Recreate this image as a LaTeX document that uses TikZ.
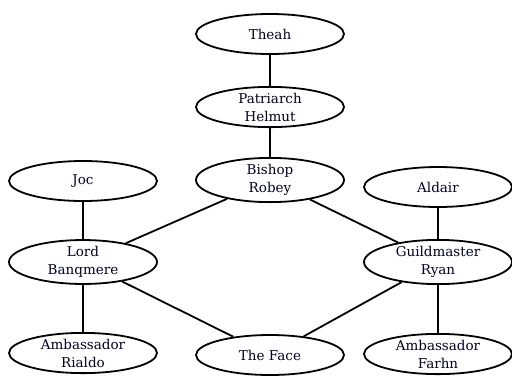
\documentclass[tikz,border=0pt]{standalone}
\usepackage{fontspec}
\setmainfont{DejaVu Serif}
\usetikzlibrary{shapes.geometric}
\begin{document}
\begin{tikzpicture}[x=1pt,y=-1pt,
  ell/.style={draw,ellipse,line width=1.8pt,minimum width=148pt,minimum height=40pt,inner sep=0pt,align=center,font=\fontsize{13.5}{18}\selectfont,text=black!85!blue},
  link/.style={line width=1.8pt}]
\useasboundingbox (0,0) rectangle (512,381);
\node[ell] (theah) at (270,34) {Theah};
\node[ell] (patr) at (270,107) {Patriarch\\Helmut};
\node[ell] (bish) at (270,180) {Bishop\\Robey};
\node[ell] (joc) at (83,181) {Joc};
\node[ell] (ald) at (438,187) {Aldair};
\node[ell,minimum height=42pt] (lord) at (83,262) {Lord\\Banqmere};
\node[ell] (guild) at (438,262) {Guildmaster\\Ryan};
\node[ell] (rial) at (83,353) {Ambassador\\Rialdo};
\node[ell] (face) at (270,355) {The Face};
\node[ell] (farhn) at (438,354) {Ambassador\\Farhn};
\draw[link] (theah) -- (patr);
\draw[link] (patr) -- (bish);
\draw[link] (bish) -- (lord);
\draw[link] (bish) -- (guild);
\draw[link] (joc) -- (lord);
\draw[link] (lord) -- (rial);
\draw[link] (lord) -- (face);
\draw[link] (guild) -- (face);
\draw[link] (ald) -- (guild);
\draw[link] (guild) -- (farhn);
\end{tikzpicture}
\end{document}
